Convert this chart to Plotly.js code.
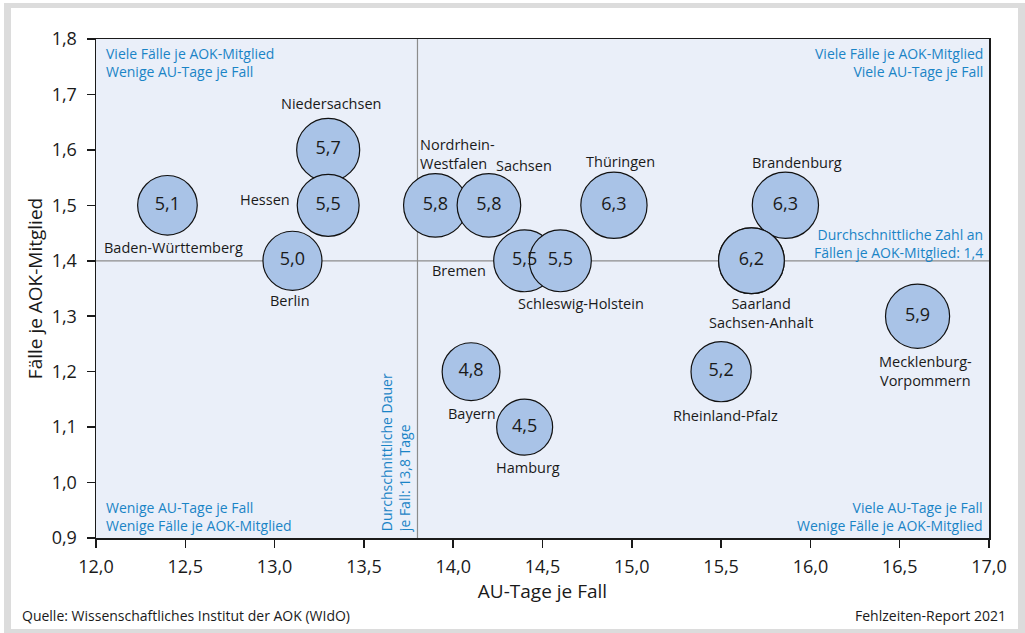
<!DOCTYPE html>
<html>
<head>
<meta charset="utf-8">
<script src="https://cdn.plot.ly/plotly-3.0.1.min.js"></script>
<style>
  html, body { margin: 0; padding: 0; background: #ffffff; }
  #frame { position: absolute; left: 4px; top: 3px; width: 1007px; height: 621px;
           border-style: solid; border-color: #dcdcdc; border-width: 5px 7px 5px 7px; }
  #chart { position: absolute; left: 0; top: 0; width: 1025px; height: 633px; }
</style>
</head>
<body>
<div id="frame"></div>
<div id="chart"></div>
<script>
// ---- data ----
const states = ["Baden-Württemberg", "Niedersachsen", "Hessen", "Berlin", "Nordrhein-Westfalen",
  "Sachsen", "Bremen", "Schleswig-Holstein", "Thüringen", "Brandenburg", "Saarland",
  "Sachsen-Anhalt", "Mecklenburg-Vorpommern", "Bayern", "Hamburg", "Rheinland-Pfalz"];
const auTageJeFall = [12.4, 13.3, 13.3, 13.1, 13.9, 14.2, 14.4, 14.6, 14.9, 15.86, 15.67, 15.67, 16.6, 14.1, 14.4, 15.5];
const faelleJeMitglied = [1.5, 1.6, 1.5, 1.4, 1.5, 1.5, 1.4, 1.4, 1.5, 1.5, 1.4, 1.4, 1.3, 1.2, 1.1, 1.2];
const auTageJeMitglied = [5.1, 5.7, 5.5, 5.0, 5.8, 5.8, 5.5, 5.5, 6.3, 6.3, 6.2, 6.2, 5.9, 4.8, 4.5, 5.2];
const avgDauer = 13.8;
const avgFaelle = 1.4;
const xTicks = [12.0, 12.5, 13.0, 13.5, 14.0, 14.5, 15.0, 15.5, 16.0, 16.5, 17.0];
const yTicks = [0.9, 1.0, 1.1, 1.2, 1.3, 1.4, 1.5, 1.6, 1.7, 1.8];

// ---- label placement (layout only) ----
const labelText = {
  "Baden-Württemberg": "Baden-Württemberg",
  "Niedersachsen": "Niedersachsen",
  "Hessen": "Hessen",
  "Berlin": "Berlin",
  "Nordrhein-Westfalen": "Nordrhein-<br>Westfalen",
  "Sachsen": "Sachsen",
  "Bremen": "Bremen",
  "Schleswig-Holstein": "Schleswig-Holstein",
  "Thüringen": "Thüringen",
  "Brandenburg": "Brandenburg",
  "Saarland": "Saarland<br>Sachsen-Anhalt",
  "Mecklenburg-Vorpommern": "Mecklenburg-<br>Vorpommern",
  "Bayern": "Bayern",
  "Hamburg": "Hamburg",
  "Rheinland-Pfalz": "Rheinland-Pfalz"
};
const labelPos = {
  "Baden-Württemberg": {dx: 6, dy: -42, anchor: "center"},
  "Niedersachsen": {dx: 3, dy: 46, anchor: "center"},
  "Hessen": {dx: -36, dy: 6, anchor: "right"},
  "Berlin": {dx: -2, dy: -40, anchor: "center"},
  "Nordrhein-Westfalen": {dx: -17, dy: 51, anchor: "left"},
  "Sachsen": {dx: 35, dy: 40, anchor: "center"},
  "Bremen": {dx: -37, dy: -10, anchor: "right"},
  "Schleswig-Holstein": {dx: 21, dy: -43, anchor: "center"},
  "Thüringen": {dx: 7, dy: 44, anchor: "center"},
  "Brandenburg": {dx: 12, dy: 43, anchor: "center"},
  "Saarland": {dx: 10, dy: -52, anchor: "center"},
  "Mecklenburg-Vorpommern": {dx: 8, dy: -55, anchor: "center"},
  "Bayern": {dx: 1, dy: -42, anchor: "center"},
  "Hamburg": {dx: 3, dy: -40, anchor: "center"},
  "Rheinland-Pfalz": {dx: 4, dy: -44, anchor: "center"}
};

const FONT = "Open Sans, Noto Sans, sans-serif";
const BLUE = "#1a84c6";

// value text inside each bubble; a bubble lying exactly on an earlier one shows no second text
const bubbleText = auTageJeMitglied.map((v, i) => {
  for (let j = 0; j < i; j++) {
    if (auTageJeFall[j] === auTageJeFall[i] && faelleJeMitglied[j] === faelleJeMitglied[i]) return "";
  }
  return v.toFixed(1).replace(".", ",");
});

const trace = {
  type: "scatter",
  mode: "markers+text",
  x: auTageJeFall,
  y: faelleJeMitglied,
  text: bubbleText,
  textposition: "middle center",
  textfont: {family: FONT, size: 18, color: "#1a1a1a"},
  hovertext: states,
  cliponaxis: false,
  marker: {
    size: auTageJeMitglied,
    sizemode: "area",
    sizeref: 0.00287,
    color: "#a9c3e7",
    opacity: 1,
    line: {color: "#111111", width: 1.2}
  },
  showlegend: false
};

const annotations = [];
states.forEach((s, i) => {
  if (!(s in labelPos)) return;
  const p = labelPos[s];
  annotations.push({
    x: auTageJeFall[i], y: faelleJeMitglied[i], xref: "x", yref: "y",
    text: labelText[s], showarrow: false,
    xanchor: p.anchor, yanchor: "middle", align: p.anchor === "right" ? "right" : (p.anchor === "left" ? "left" : "center"),
    xshift: p.dx, yshift: p.dy,
    font: {family: FONT, size: 14.5, color: "#1a1a1a"}
  });
});

const quad = [
  {x: 0, y: 0.952, xanchor: "left", xshift: 8, text: "Viele Fälle je AOK-Mitglied<br>Wenige AU-Tage je Fall"},
  {x: 1, y: 0.952, xanchor: "right", xshift: -4, text: "Viele Fälle je AOK-Mitglied<br>Viele AU-Tage je Fall"},
  {x: 0, y: 0.043, xanchor: "left", xshift: 8, text: "Wenige AU-Tage je Fall<br>Wenige Fälle je AOK-Mitglied"},
  {x: 1, y: 0.043, xanchor: "right", xshift: -4, text: "Viele AU-Tage je Fall<br>Wenige Fälle je AOK-Mitglied"}
];
quad.forEach(q => annotations.push({
  xref: "paper", yref: "paper", x: q.x, y: q.y, xanchor: q.xanchor, yanchor: "middle",
  xshift: q.xshift, align: q.xanchor, showarrow: false, text: q.text,
  font: {family: FONT, size: 14, color: BLUE}
}));

annotations.push({
  xref: "paper", yref: "y", x: 1, y: avgFaelle, xanchor: "right", yanchor: "middle",
  xshift: -4, yshift: 17, align: "right", showarrow: false,
  text: "Durchschnittliche Zahl an<br>Fällen je AOK-Mitglied: " + avgFaelle.toFixed(1).replace(".", ","),
  font: {family: FONT, size: 14, color: BLUE}
});
annotations.push({
  xref: "x", yref: "paper", x: avgDauer, y: 0.171, xanchor: "center", yanchor: "middle",
  xshift: -22, textangle: -90, align: "left", showarrow: false,
  text: "Durchschnittliche Dauer<br>je Fall: " + avgDauer.toFixed(1).replace(".", ",") + " Tage",
  font: {family: FONT, size: 14, color: BLUE}
});

// footer
annotations.push({
  xref: "paper", yref: "paper", x: 0, y: 0, xshift: -76, yshift: -77, xanchor: "left", yanchor: "middle",
  showarrow: false, text: "Quelle: Wissenschaftliches Institut der AOK (WIdO)",
  font: {family: FONT, size: 14, color: "#1a1a1a"}
});
annotations.push({
  xref: "paper", yref: "paper", x: 1, y: 0, xshift: 19, yshift: -77, xanchor: "right", yanchor: "middle",
  showarrow: false, text: "Fehlzeiten-Report 2021",
  font: {family: FONT, size: 14, color: "#1a1a1a"}
});

const layout = {
  width: 1025, height: 633,
  margin: {l: 96, r: 36, t: 39, b: 95, pad: 0},
  paper_bgcolor: "rgba(0,0,0,0)",
  plot_bgcolor: "#eaeff9",
  separators: ", ",
  font: {family: FONT, color: "#1a1a1a"},
  xaxis: {
    range: [12, 17], tickvals: xTicks, tickformat: ".1f",
    showgrid: false, zeroline: false, automargin: true,
    showline: true, mirror: true, linecolor: "#1a1a1a", linewidth: 1.5,
    ticks: "outside", ticklen: 8, tickwidth: 1.5, tickcolor: "#1a1a1a",
    ticklabelstandoff: 4,
    tickfont: {family: FONT, size: 18, color: "#1a1a1a"},
    title: {text: "AU-Tage je Fall", font: {family: FONT, size: 19, color: "#1a1a1a"}, standoff: 2}
  },
  yaxis: {
    range: [0.9, 1.8], tickvals: yTicks, tickformat: ".1f",
    showgrid: false, zeroline: false,
    showline: true, mirror: true, linecolor: "#1a1a1a", linewidth: 1.5,
    ticks: "outside", ticklen: 8, tickwidth: 1.5, tickcolor: "#1a1a1a",
    ticklabelstandoff: 6,
    tickfont: {family: FONT, size: 18, color: "#1a1a1a"},
    title: {text: "Fälle je AOK-Mitglied", font: {family: FONT, size: 19, color: "#1a1a1a"}, standoff: 4}
  },
  shapes: [
    {type: "line", xref: "x", yref: "paper", x0: avgDauer, x1: avgDauer, y0: 0, y1: 1,
     line: {color: "#8c8c8c", width: 1.2}, layer: "below"},
    {type: "line", xref: "paper", yref: "y", x0: 0, x1: 1, y0: avgFaelle, y1: avgFaelle,
     line: {color: "#8c8c8c", width: 1.2}, layer: "below"}
  ],
  annotations: annotations
};

Plotly.newPlot("chart", [trace], layout, {displayModeBar: false, staticPlot: true});
</script>
</body>
</html>
